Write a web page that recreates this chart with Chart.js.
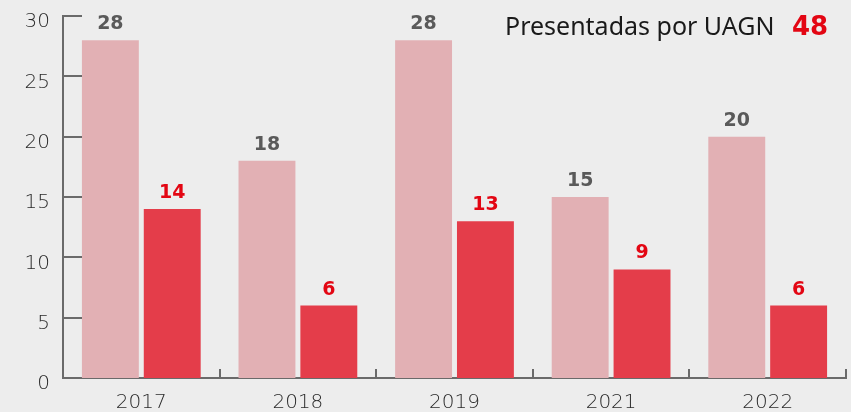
<!DOCTYPE html>
<html><head><meta charset="utf-8">
<script src="https://cdn.jsdelivr.net/npm/chart.js@4"></script>
<style>html,body{margin:0;padding:0;background:#ededed;}#w{width:851px;height:412px;}</style>
</head><body><div id="w"><canvas id="c" width="851" height="412"></canvas></div>
<script>
const categories = ['2017','2018','2019','2021','2022'];
const seriesTotal = [28,18,28,15,20];
const seriesUAGN = [14,6,13,9,6];
const yTicks = [0,5,10,15,20,25,30];
const legendText = 'Presentadas por UAGN';
const legendValue = '48';

const FONT = "'DejaVu Sans', sans-serif";
const AXIS = '#6a6a6a';

const customPlugin = {
  id: 'custom',
  afterDatasetsDraw(chart) {
    const ctx = chart.ctx;
    const x = chart.scales.x, y = chart.scales.y;
    const ca = chart.chartArea;
    ctx.save();
    ctx.strokeStyle = AXIS; ctx.lineWidth = 2;
    yTicks.forEach(v => {
      if (v === 0) return;
      const py = Math.round(y.getPixelForValue(v));
      ctx.beginPath(); ctx.moveTo(ca.left, py); ctx.lineTo(ca.left + 19, py); ctx.stroke();
    });
    const half = (x.getPixelForValue(1) - x.getPixelForValue(0)) / 2;
    categories.forEach((c, i) => {
      const px = Math.round(x.getPixelForValue(i) + half);
      ctx.beginPath(); ctx.moveTo(px, ca.bottom); ctx.lineTo(px, ca.bottom - 9); ctx.stroke();
    });
    ctx.textAlign = 'center'; ctx.textBaseline = 'alphabetic';
    ctx.font = "bold 19px " + FONT;
    const colors = ['#5a5a5a', '#e30613'];
    chart.data.datasets.forEach((ds, di) => {
      const meta = chart.getDatasetMeta(di);
      meta.data.forEach((bar, i) => {
        ctx.fillStyle = colors[di];
        ctx.fillText(String(ds.data[i]), bar.x, bar.y - 11);
      });
    });
    ctx.textAlign = 'left';
    ctx.font = "25px 'Noto Sans', sans-serif";
    ctx.fillStyle = '#1a1a1a';
    ctx.fillText(legendText, 505, 35);
    ctx.font = "bold 26px " + FONT;
    ctx.fillStyle = '#e30613';
    ctx.fillText(legendValue, 792, 35);
    ctx.restore();
  }
};

new Chart(document.getElementById('c'), {
  type: 'bar',
  data: {
    labels: categories,
    datasets: [
      { data: seriesTotal, backgroundColor: '#e2b0b4', categoryPercentage: 0.79, barPercentage: 0.92 },
      { data: seriesUAGN, backgroundColor: '#e43d4a', categoryPercentage: 0.79, barPercentage: 0.92 }
    ]
  },
  options: {
    responsive: false,
    animation: false,
    devicePixelRatio: 1,
    layout: { padding: { top: 16, right: 5, left: 0, bottom: 0 } },
    plugins: { legend: { display: false }, tooltip: { enabled: false } },
    scales: {
      x: {
        afterFit(s) { s.height = 34; s.paddingLeft = 0; s.paddingRight = 0; },
        grid: { display: false, drawTicks: false },
        border: { display: true, color: AXIS, width: 2 },
        ticks: { color: '#2a2a2a', font: { family: FONT, size: 20, weight: '200' }, padding: 13 }
      },
      y: {
        min: 0, max: 30,
        afterFit(s) { s.width = 63; s.paddingTop = 0; s.paddingBottom = 0; },
        afterBuildTicks(s) { s.ticks = yTicks.map(v => ({ value: v })); },
        grid: { display: false, drawTicks: false },
        border: { display: true, color: AXIS, width: 2 },
        ticks: { color: '#2a2a2a', font: { family: FONT, size: 20, weight: '200' }, padding: 13, labelOffset: 6 }
      }
    }
  },
  plugins: [customPlugin]
});
</script></body></html>
